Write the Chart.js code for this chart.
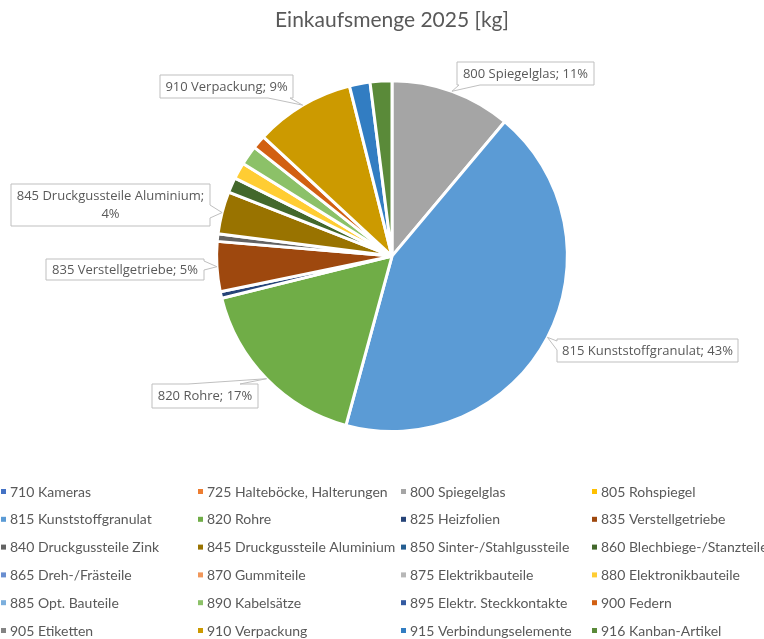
<!DOCTYPE html>
<html>
<head>
<meta charset="utf-8">
<script src="https://cdn.jsdelivr.net/npm/chart.js@4.4.1/dist/chart.umd.min.js"></script>
<style>
  html, body { margin: 0; padding: 0; background: #ffffff; overflow: hidden; }
  #wrap { width: 764px; height: 639px; position: relative; }
</style>
</head>
<body>
<div id="wrap"><canvas id="c" width="764" height="639"></canvas></div>
<script>
// ---- data ----
const chartTitle = 'Einkaufsmenge 2025 [kg]';
const categories = [
  '710 Kameras', '725 Halteböcke, Halterungen', '800 Spiegelglas', '805 Rohspiegel',
  '815 Kunststoffgranulat', '820 Rohre', '825 Heizfolien', '835 Verstellgetriebe',
  '840 Druckgussteile Zink', '845 Druckgussteile Aluminium', '850 Sinter-/Stahlgussteile', '860 Blechbiege-/Stanzteile',
  '865 Dreh-/Frästeile', '870 Gummiteile', '875 Elektrikbauteile', '880 Elektronikbauteile',
  '885 Opt. Bauteile', '890 Kabelsätze', '895 Elektr. Steckkontakte', '900 Federn',
  '905 Etiketten', '910 Verpackung', '915 Verbindungselemente', '916 Kanban-Artikel'
];
const values = [
  0, 0, 11100, 0,
  43100, 16900, 600, 4600,
  700, 3900, 0, 1400,
  0, 0, 0, 1500,
  0, 1800, 0, 1250,
  0, 9200, 1900, 2000
];
const colors = [
  '#4472C4', '#ED7D31', '#A5A5A5', '#FFC000',
  '#5B9BD5', '#70AD47', '#264478', '#9E480E',
  '#636363', '#997300', '#255E91', '#43682B',
  '#698ED0', '#F1975A', '#B7B7B7', '#FFCD33',
  '#7CAFDD', '#8CC168', '#335AA1', '#D26012',
  '#848484', '#CC9A00', '#327DC2', '#5A8A39'
];
// categories that carry a data callout
const calloutCategories = ['800 Spiegelglas', '815 Kunststoffgranulat', '820 Rohre',
  '835 Verstellgetriebe', '845 Druckgussteile Aluminium', '910 Verpackung'];

// ---- layout of callouts (positions only) ----
const calloutLayout = {
  '800 Spiegelglas':              { x: 457, y: 62,  w: 137, h: 23, side: 'bottom', b1: 459, b2: 480, lines: 1 },
  '815 Kunststoffgranulat':       { x: 557, y: 339, w: 181, h: 23, side: 'left',   b1: 341, b2: 350, lines: 1 },
  '820 Rohre':                    { x: 152, y: 384, w: 106, h: 24, side: 'top',    b1: 188, b2: 240, lines: 1 },
  '835 Verstellgetriebe':         { x: 46,  y: 259, w: 158, h: 21, side: 'right',  b1: 261, b2: 270, lines: 1 },
  '845 Druckgussteile Aluminium': { x: 11,  y: 184, w: 199, h: 42, side: 'right',  b1: 205, b2: 218, lines: 2 },
  '910 Verpackung':               { x: 160, y: 75,  w: 133, h: 23, side: 'bottom', b1: 268, b2: 290, lines: 1 }
};

const textColor = '#595959';

function calloutPath(ctx, L, tx, ty) {
  const {x, y, w, h, side, b1, b2} = L;
  ctx.beginPath();
  ctx.moveTo(x, y);
  if (side === 'top') { ctx.lineTo(b1, y); ctx.lineTo(tx, ty); ctx.lineTo(b2, y); }
  ctx.lineTo(x + w, y);
  if (side === 'right') { ctx.lineTo(x + w, b1); ctx.lineTo(tx, ty); ctx.lineTo(x + w, b2); }
  ctx.lineTo(x + w, y + h);
  if (side === 'bottom') { ctx.lineTo(b2, y + h); ctx.lineTo(tx, ty); ctx.lineTo(b1, y + h); }
  ctx.lineTo(x, y + h);
  if (side === 'left') { ctx.lineTo(x, b2); ctx.lineTo(tx, ty); ctx.lineTo(x, b1); }
  ctx.closePath();
}

const calloutPlugin = {
  id: 'callouts',
  afterDatasetsDraw(chart) {
    const ctx = chart.ctx;
    const meta = chart.getDatasetMeta(0);
    const total = values.reduce((a, b) => a + b, 0);
    ctx.save();
    calloutCategories.forEach(cat => {
      const i = categories.indexOf(cat);
      const arc = meta.data[i];
      const L = calloutLayout[cat];
      const mid = (arc.startAngle + arc.endAngle) / 2;
      const tx = arc.x + Math.cos(mid) * arc.outerRadius;
      const ty = arc.y + Math.sin(mid) * arc.outerRadius;
      const pct = Math.round(values[i] / total * 100);
      calloutPath(ctx, L, tx, ty);
      ctx.fillStyle = '#ffffff';
      ctx.fill();
      ctx.strokeStyle = '#bfbfbf';
      ctx.lineWidth = 1;
      ctx.stroke();
      ctx.fillStyle = textColor;
      ctx.font = '13px "Open Sans"';
      ctx.textAlign = 'center';
      ctx.textBaseline = 'middle';
      const cx = L.x + L.w / 2;
      if (L.lines === 2) {
        ctx.fillText(cat + ';', cx, L.y + L.h / 2 - 9);
        ctx.fillText(pct + '%', cx, L.y + L.h / 2 + 9);
      } else {
        ctx.fillText(cat + '; ' + pct + '%', cx, L.y + L.h / 2 + 0.5);
      }
    });
    ctx.restore();
  }
};

// legend grid: 4 columns, row-major
const legendCols = [1, 198, 401, 592];
const legendTop = 492;
const legendRowStep = 27.8;
const legendPlugin = {
  id: 'gridLegend',
  afterDraw(chart) {
    const ctx = chart.ctx;
    ctx.save();
    ctx.font = '14px Lato';
    ctx.textBaseline = 'middle';
    ctx.textAlign = 'left';
    categories.forEach((cat, i) => {
      const col = i % 4, row = Math.floor(i / 4);
      const x = legendCols[col];
      const y = legendTop + row * legendRowStep;
      ctx.fillStyle = colors[i];
      ctx.fillRect(x, y - 3, 5, 5);
      ctx.fillStyle = textColor;
      ctx.fillText(cat, x + 9, y);
    });
    ctx.restore();
  }
};

new Chart(document.getElementById('c'), {
  type: 'pie',
  data: {
    labels: categories,
    datasets: [{
      data: values,
      backgroundColor: colors,
      borderColor: '#ffffff',
      borderWidth: 3,
      hoverOffset: 0,
      offset: 0
    }]
  },
  options: {
    responsive: false,
    animation: false,
    devicePixelRatio: 1,
    layout: { padding: { left: 215, right: 195, top: 0, bottom: 206 } },
    plugins: {
      legend: { display: false },
      tooltip: { enabled: false },
      title: {
        display: true,
        text: chartTitle,
        color: textColor,
        font: { family: 'Lato', size: 21, weight: 'normal', lineHeight: 1.2 },
        padding: { top: 8, bottom: 46 }
      }
    }
  },
  plugins: [calloutPlugin, legendPlugin]
});
</script>
</body>
</html>
